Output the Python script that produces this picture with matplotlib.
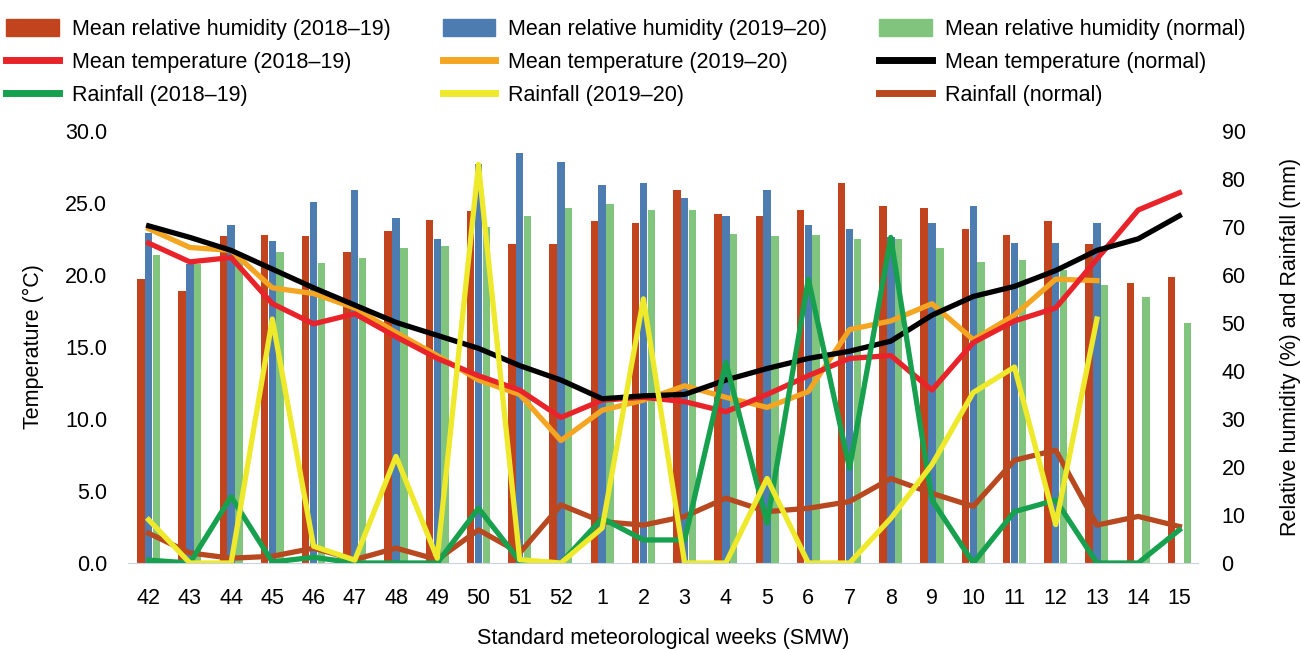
import matplotlib
matplotlib.use("Agg")
import matplotlib.pyplot as plt
import numpy as np
from matplotlib.patches import Patch
from matplotlib.lines import Line2D

plt.rcParams['font.family'] = ['Liberation Sans', 'DejaVu Sans']

weeks = ['42', '43', '44', '45', '46', '47', '48', '49', '50', '51', '52',
         '1', '2', '3', '4', '5', '6', '7', '8', '9', '10', '11', '12', '13', '14', '15']
nan = np.nan

# relative humidity (%)
rh_1819 = [59.1, 56.7, 68.0, 68.4, 68.1, 64.8, 69.1, 71.5, 73.3, 66.4, 66.4, 71.2, 70.7,
           77.6, 72.6, 72.2, 73.6, 79.1, 74.3, 74.0, 69.6, 68.3, 71.2, 66.4, 58.4, 59.5]
rh_1920 = [68.8, 62.2, 70.3, 67.1, 75.1, 77.6, 71.9, 67.5, 83.0, 85.4, 83.6, 78.8, 79.1,
           76.0, 72.2, 77.6, 70.3, 69.6, 67.8, 70.7, 74.3, 66.7, 66.7, 70.7, nan, nan]
rh_norm = [64.1, 62.2, 63.5, 64.8, 62.4, 63.6, 65.5, 66.0, 70.0, 72.2, 74.0, 74.7, 73.6,
           73.6, 68.6, 68.0, 68.3, 67.5, 67.5, 65.5, 62.6, 63.0, 61.0, 57.9, 55.4, 49.9]

# mean temperature (C)
temp_1819 = [22.2, 20.9, 21.2, 18.0, 16.6, 17.3, 15.7, 14.2, 13.0, 12.0, 10.1, 11.3, 11.5,
             11.2, 10.5, 11.7, 13.0, 14.2, 14.4, 12.0, 15.3, 16.8, 17.7, 21.1, 24.5, 25.7]
temp_1920 = [23.2, 21.9, 21.7, 19.1, 18.7, 17.7, 16.0, 14.4, 12.7, 11.7, 8.5, 10.6, 11.3,
             12.3, 11.5, 10.8, 11.9, 16.2, 16.8, 18.0, 15.5, 17.2, 19.7, 19.6, nan, nan]
temp_norm = [23.4, 22.6, 21.7, 20.4, 19.1, 17.9, 16.7, 15.8, 14.9, 13.7, 12.7, 11.4, 11.6,
             11.7, 12.7, 13.5, 14.2, 14.7, 15.4, 17.2, 18.5, 19.2, 20.3, 21.7, 22.5, 24.1]

# rainfall (mm)
rain_1819 = [0.6, 0.0, 13.8, 0.2, 1.2, 0.0, 0.0, 0.0, 11.4, 0.4, 0.0, 9.3, 4.8,
             4.8, 41.8, 8.3, 59.1, 19.7, 67.8, 13.1, 0.0, 10.7, 13.1, 0.0, 0.0, 6.9]
rain_1920 = [9.0, 0.0, 0.0, 50.8, 3.5, 0.6, 22.2, 1.0, 83.0, 0.7, 0.0, 7.3, 55.0,
             0.0, 0.0, 17.6, 0.0, 0.0, 9.3, 20.5, 35.5, 40.8, 8.0, 50.8, nan, nan]
rain_norm = [6.2, 2.1, 1.0, 1.4, 3.1, 0.7, 3.1, 0.7, 6.9, 2.1, 12.1, 8.6, 7.9,
             9.7, 13.5, 10.7, 11.4, 12.8, 17.6, 14.5, 11.8, 21.4, 23.5, 7.9, 9.7, 7.6]

c_rh1, c_rh2, c_rhn = '#c2441f', '#4d7db0', '#80c47e'
c_t1, c_t2, c_tn = '#e8242a', '#f4a623', '#000000'
c_r1, c_r2, c_rn = '#17a04e', '#efe92c', '#b8481f'

fs = 15.5

fig = plt.figure(figsize=(13.01, 6.49), dpi=100)
ax = fig.add_axes([0.0984, 0.1325, 0.8224, 0.666])
axb = ax.twinx()
axr = ax.twinx()
# bars at the back, temperature lines in the middle, rainfall on top
axb.set_zorder(1)
ax.set_zorder(2)
axr.set_zorder(3)
ax.patch.set_visible(False)
axr.patch.set_visible(False)

x = np.arange(len(weeks))
w = 0.18
axb.bar(x - 0.19, rh_1819, w, color=c_rh1)
axb.bar(x, rh_1920, w, color=c_rh2)
axb.bar(x + 0.19, rh_norm, w, color=c_rhn)

lw = 3.8
ax.plot(x, temp_1920, color=c_t2, lw=lw)
ax.plot(x, temp_1819, color=c_t1, lw=lw)
ax.plot(x, temp_norm, color=c_tn, lw=lw)

axr.plot(x, rain_norm, color=c_rn, lw=lw)
axr.plot(x, rain_1819, color=c_r1, lw=lw)
axr.plot(x, rain_1920, color=c_r2, lw=lw)

ax.set_xlim(-0.5, 25.45)
ax.set_ylim(0, 30)
axb.set_ylim(0, 90)
axr.set_ylim(0, 90)

ax.set_xticks(x)
ax.set_xticklabels(weeks)
ax.set_yticks(np.arange(0, 31, 5))
ax.set_yticklabels(['%.1f' % v for v in np.arange(0, 31, 5)])
axb.set_yticks(np.arange(0, 91, 10))
axr.set_yticks([])

for a in (ax, axb, axr):
    for s in a.spines.values():
        s.set_visible(False)
ax.spines['bottom'].set_visible(True)
ax.spines['bottom'].set_color('#c9d3dc')
ax.tick_params(axis='y', length=0, labelsize=fs, pad=15)
ax.tick_params(axis='x', length=0, labelsize=fs, pad=18)
axb.tick_params(length=0, labelsize=fs, pad=17)

ax.set_xlabel('Standard meteorological weeks (SMW)', fontsize=fs, labelpad=14)
ax.set_ylabel('Temperature (°C)', fontsize=fs, labelpad=15)
axb.set_ylabel('Relative humidity (%) and Rainfall (mm)', fontsize=fs, labelpad=25)

handles = [
    Patch(color=c_rh1), Line2D([], [], color=c_t1, lw=5), Line2D([], [], color=c_r1, lw=5),
    Patch(color=c_rh2), Line2D([], [], color=c_t2, lw=5), Line2D([], [], color=c_r2, lw=5),
    Patch(color=c_rhn), Line2D([], [], color=c_tn, lw=5), Line2D([], [], color=c_rn, lw=5),
]
labels = [
    'Mean relative humidity (2018–19)', 'Mean temperature (2018–19)', 'Rainfall (2018–19)',
    'Mean relative humidity (2019–20)', 'Mean temperature (2019–20)', 'Rainfall (2019–20)',
    'Mean relative humidity (normal)', 'Mean temperature (normal)', 'Rainfall (normal)',
]
fig.legend(handles, labels, ncol=3, loc='upper left', bbox_to_anchor=(0.0, 0.981),
           frameon=False, fontsize=fs, handlelength=2.45, handleheight=0.85,
           handletextpad=0.6, columnspacing=2.4, labelspacing=0.55,
           borderaxespad=0.0, borderpad=0.3)

fig.savefig('out.png', dpi=100)
